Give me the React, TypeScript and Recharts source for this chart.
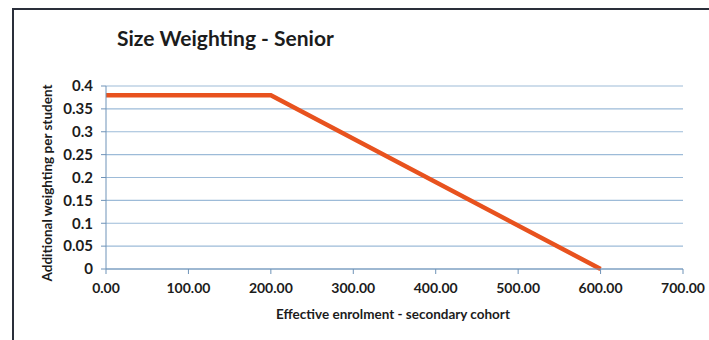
import { CartesianGrid, Line, LineChart, XAxis, YAxis } from 'recharts';

const enrolment = [0, 200, 600];
const weighting = [0.38, 0.38, 0];
const xTicks = [0, 100, 200, 300, 400, 500, 600, 700];
const yTicks = [0, 0.05, 0.1, 0.15, 0.2, 0.25, 0.3, 0.35, 0.4];

const data = enrolment.map((x, i) => ({ x, y: weighting[i] }));

const FONT = 'Lato, "Open Sans", sans-serif';
const INK = '#1c1c1c';

export default function App() {
  return (
    <div
      style={{
        position: 'fixed',
        left: 0,
        top: 0,
        width: 709,
        height: 340,
        background: '#fff',
        fontFamily: FONT,
        overflow: 'hidden',
      }}
    >
      <div
        style={{
          position: 'absolute',
          left: 12,
          top: 8,
          width: 697,
          height: 332,
          borderLeft: '2px solid #2a2f3a',
          borderTop: '2px solid #2a2f3a',
        }}
      />
      <div
        style={{
          position: 'absolute',
          left: 117,
          top: 25,
          fontSize: 21,
          fontWeight: 700,
          color: INK,
        }}
      >
        Size Weighting - Senior
      </div>
      <LineChart
        width={709}
        height={340}
        data={data}
        margin={{ top: 86, right: 26, bottom: 41, left: 46 }}
        style={{ position: 'absolute', left: 0, top: 0 }}
      >
        <CartesianGrid vertical={false} stroke="#9dbbd8" strokeWidth={1.2} />
        <XAxis
          dataKey="x"
          type="number"
          domain={[0, 700]}
          ticks={xTicks}
          tickFormatter={(v: number) => v.toFixed(2)}
          height={30}
          tickSize={5}
          tickMargin={9}
          stroke="#6f93b8"
          tick={{ fill: INK, fontSize: 14, fontWeight: 700, fontFamily: FONT }}
          interval={0}
        />
        <YAxis
          type="number"
          domain={[0, 0.4]}
          ticks={yTicks}
          width={60}
          tickSize={5}
          tickMargin={8}
          stroke="#6f93b8"
          tick={{ fill: INK, fontSize: 15, fontWeight: 700, fontFamily: FONT }}
          interval={0}
        />
        <Line
          type="linear"
          dataKey="y"
          stroke="#e8521e"
          strokeWidth={4.5}
          dot={false}
          isAnimationActive={false}
        />
      </LineChart>
      <div
        style={{
          position: 'absolute',
          left: 47,
          top: 183,
          transform: 'translate(-50%, -50%) rotate(-90deg)',
          whiteSpace: 'nowrap',
          fontSize: 13.5,
          fontWeight: 700,
          color: INK,
        }}
      >
        Additional weighting per student
      </div>
      <div
        style={{
          position: 'absolute',
          left: 393,
          top: 314,
          transform: 'translate(-50%, -50%)',
          whiteSpace: 'nowrap',
          fontSize: 13.5,
          fontWeight: 700,
          color: INK,
        }}
      >
        Effective enrolment - secondary cohort
      </div>
    </div>
  );
}
